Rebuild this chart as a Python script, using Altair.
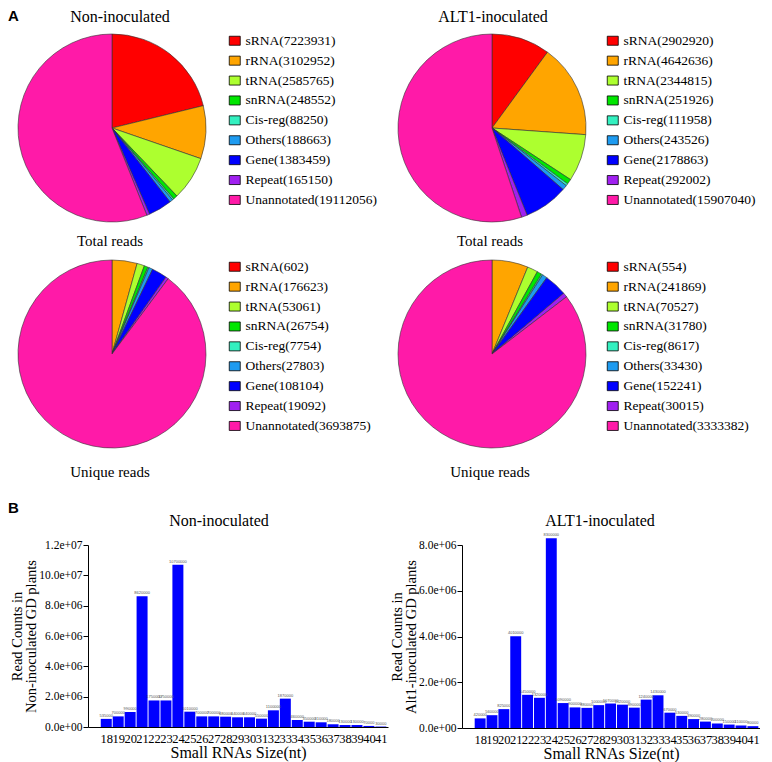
import altair as alt
import pandas as pd

# ---------------- data ----------------
categories = ["sRNA", "rRNA", "tRNA", "snRNA", "Cis-reg", "Others", "Gene", "Repeat", "Unannotated"]
colors = ["#FF0000", "#FFA500", "#ADFF2F", "#00E600", "#33F0C0", "#1E9BF0", "#0000FF", "#A020F0", "#FF1AA8"]

non_total = [7223931, 3102952, 2585765, 248552, 88250, 188663, 1383459, 165150, 19112056]
alt_total = [2902920, 4642636, 2344815, 251926, 111958, 243526, 2178863, 292002, 15907040]
non_unique = [602, 176623, 53061, 26754, 7754, 27803, 108104, 19092, 3693875]
alt_unique = [554, 241869, 70527, 31780, 8617, 33430, 152241, 30015, 3333382]

sizes = list(range(18, 42))
non_counts = [535000, 700000, 990000, 8620000, 1750000, 1750000, 10700000, 1010000,
              700000, 700000, 680000, 640000, 640000, 550000, 1100000, 1870000,
              460000, 350000, 310000, 180000, 130000, 130000, 70000, 30000]
alt_counts = [420000, 560000, 825000, 4010000, 1450000, 1320000, 8300000, 1090000,
              900000, 880000, 1000000, 1070000, 1020000, 890000, 1240000, 1430000,
              670000, 530000, 390000, 280000, 200000, 150000, 110000, 80000]

non_yticks = [0, 2000000, 4000000, 6000000, 8000000, 10000000, 12000000]
non_ylabels = ["0.0e+00", "2.0e+06", "4.0e+06", "6.0e+06", "8.0e+06", "10.0e+07", "1.2e+07"]
alt_yticks = [0, 2000000, 4000000, 6000000, 8000000]
alt_ylabels = ["0.0e+00", "2.0e+06", "4.0e+06", "6.0e+06", "8.0e+06"]

SERIF = "Liberation Serif"
SANS = "Liberation Sans"


def text_layer(txt, x, y, font=SERIF, size=15, weight="normal", align="center"):
    return alt.Chart(pd.DataFrame({"t": [txt]})).mark_text(
        font=font, fontSize=size, fontWeight=weight, align=align, baseline="middle", color="black"
    ).encode(text="t:N", x=alt.value(x), y=alt.value(y))


def pie(values, caption, caption_y, title=None, title_x=94, panel=None, legend_offset=22):
    labels = [f"{c}({v})" for c, v in zip(categories, values)]
    df = pd.DataFrame({"label": labels, "value": values, "idx": list(range(len(values)))})
    arcs = alt.Chart(df).mark_arc(stroke="#333333", strokeWidth=0.6).encode(
        theta=alt.Theta("value:Q", stack=True),
        color=alt.Color("label:N", scale=alt.Scale(domain=labels, range=colors),
                        legend=alt.Legend(title=None, labelFont=SERIF, offset=legend_offset)),
        order=alt.Order("idx:Q"),
    )
    layers = [arcs, text_layer(caption, 92, caption_y)]
    if title:
        layers.append(text_layer(title, title_x, -17.5, size=16))
    if panel is not None:
        layers.append(text_layer(panel, -10, -18, font=SANS, weight="bold", align="left"))
    return alt.layer(*layers).properties(width=188, height=188)


def bars(counts, yticks, ylabels, ytitle, title, title_x, panel=None, width=300, height=182):
    df = pd.DataFrame({"size": sizes, "count": counts})
    df["lab"] = df["count"].astype(str)
    expr = "".join(f"datum.value == {v} ? '{l}' : " for v, l in zip(yticks, ylabels)) + "''"
    xscale = alt.Scale(domain=[16.47, 41.6], nice=False, zero=False)
    xaxis = alt.Axis(values=sizes, format="d", ticks=False, labelFont=SERIF, labelFontSize=12.5,
                     labelPadding=5, titleFontSize=16, titlePadding=0, grid=False,
                     labelOverlap=False, title="Small RNAs Size(nt)")
    yscale = alt.Scale(domain=[0, yticks[-1]], nice=False)
    yaxis = alt.Axis(values=yticks, labelExpr=expr, title=ytitle, grid=False, tickSize=5,
                     labelFont=SERIF, labelFontSize=11.5, labelPadding=1, titleFontSize=14.5,
                     titlePadding=0, titleLineHeight=14.5)
    base = alt.Chart(df).transform_calculate(x0="datum.size - 0.46", x1="datum.size + 0.46")
    b = base.mark_bar(color="#0000FF").encode(
        x=alt.X("x0:Q", scale=xscale, axis=xaxis),
        x2="x1:Q",
        y=alt.Y("count:Q", scale=yscale, axis=yaxis),
        y2=alt.datum(0),
    )
    t = base.mark_text(font=SANS, fontSize=4, dy=-1, baseline="bottom", color="#555555").encode(
        x=alt.X("size:Q", scale=xscale, axis=xaxis),
        y=alt.Y("count:Q", scale=yscale, axis=yaxis),
        text="lab:N",
    )
    layers = [b, t, text_layer(title, title_x, -24, size=16)]
    if panel is not None:
        layers.append(text_layer(panel, -80, -37, font=SANS, weight="bold", align="left"))
    return alt.layer(*layers).properties(width=width, height=height)


p1 = pie(non_total, "Total reads", 206.5, title="Non-inoculated", title_x=102, panel="A")
p2 = pie(alt_total, "Total reads", 206.5, title="ALT1-inoculated", title_x=95, legend_offset=20)
p3 = pie(non_unique, "Unique reads", 212)
p4 = pie(alt_unique, "Unique reads", 212, legend_offset=20)

pies = alt.concat(p1, p2, p3, p4, columns=2, spacing={"row": 9, "column": 19}).resolve_scale(
    color="independent", theta="independent")

b1 = bars(non_counts, non_yticks, non_ylabels, ["Read Counts in", "Non-inoculated GD plants"],
          "Non-inoculated", 131, panel="B")
b2 = bars(alt_counts, alt_yticks, alt_ylabels, ["Read Counts in", "Alt1-inoculated GD plants"],
          "ALT1-inoculated", 138, width=298, height=183)

spacer = alt.Chart(pd.DataFrame({"a": [0]})).mark_point(opacity=0, size=0).properties(width=1, height=1)
barrow = alt.hconcat(spacer, alt.hconcat(b1, b2, spacing=1), spacing=-11)

chart = alt.vconcat(pies, barrow, spacing=21).resolve_scale(
    color="independent", theta="independent"
).properties(padding=0).configure_view(stroke=None).configure_axis(
    labelFont=SERIF, titleFont=SERIF, labelColor="black", titleColor="black",
    domainColor="black", tickColor="black", titleFontWeight="normal"
).configure_legend(
    orient="right", offset=22, padding=0, symbolType="M-1,-0.82H1V0.82H-1Z", symbolSize=121,
    symbolStrokeColor="black", symbolStrokeWidth=0.8, labelFont=SERIF, labelFontSize=13.5,
    labelColor="black", labelOffset=4, rowPadding=4.9, labelLimit=250
)

chart.save("out.html", embed_options={"renderer": "svg", "actions": False})
